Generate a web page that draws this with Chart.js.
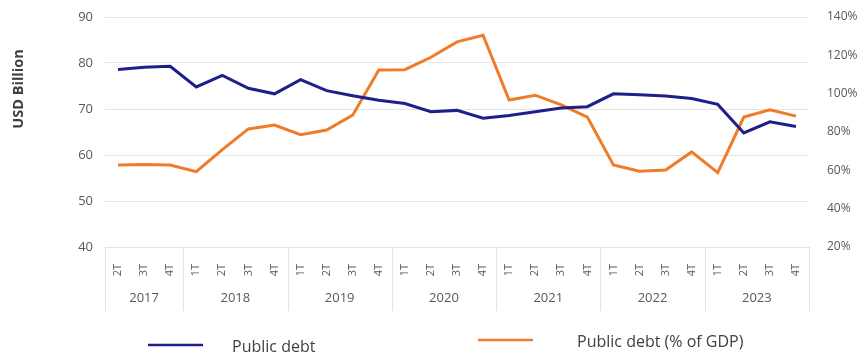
<!DOCTYPE html>
<html>
<head>
<meta charset="utf-8">
<script src="https://cdn.jsdelivr.net/npm/chart.js@4"></script>
<style>
  html, body { margin: 0; padding: 0; background: #fff; }
  #wrap { width: 864px; height: 356px; }
</style>
</head>
<body>
<div id="wrap"><canvas id="myChart" width="864" height="356"></canvas></div>
<script>
const years = ['2017', '2018', '2019', '2020', '2021', '2022', '2023'];
const quartersPerYear = [3, 4, 4, 4, 4, 4, 4];
const quarterLabels = [
  '2T', '3T', '4T',
  '1T', '2T', '3T', '4T',
  '1T', '2T', '3T', '4T',
  '1T', '2T', '3T', '4T',
  '1T', '2T', '3T', '4T',
  '1T', '2T', '3T', '4T',
  '1T', '2T', '3T', '4T'
];
// USD billion, left axis
const debtUsd = [
  78.6, 79.1, 79.3,
  74.8, 77.3, 74.5, 73.3,
  76.4, 74.0, 72.9, 71.9,
  71.2, 69.4, 69.7, 68.0,
  68.6, 69.4, 70.2, 70.5,
  73.3, 73.1, 72.8, 72.3,
  71.0, 64.8, 67.2, 66.2
];
// % of GDP, right axis
const debtPct = [
  62.8, 63.0, 62.8,
  59.3, 70.8, 81.6, 83.6,
  78.6, 81.0, 88.8, 112.3,
  112.5, 119.0, 127.0, 130.5,
  96.7, 99.2, 94.2, 87.8,
  62.8, 59.5, 60.2, 69.6,
  58.8, 87.8, 91.6, 88.3
];

const BLUE = '#1f1f8c';
const ORANGE = '#f07b28';
const TEXT = '#595959';
const GRID = '#e4e4e4';
const FONT = '"Open Sans", sans-serif';

// year groups under the quarter labels
const yearGroups = {
  id: 'yearGroups',
  afterDraw(chart) {
    const { ctx, scales: { x } } = chart;
    const step = (x.right - x.left) / quarterLabels.length;
    const top = x.top;
    const bottom = x.top + 64;
    ctx.save();
    ctx.strokeStyle = GRID;
    ctx.lineWidth = 1;
    ctx.fillStyle = TEXT;
    ctx.font = '13px ' + FONT;
    ctx.textAlign = 'center';
    ctx.textBaseline = 'middle';
    let start = 0;
    years.forEach((yr, i) => {
      const n = quartersPerYear[i];
      const left = x.getPixelForValue(start) - step / 2;
      const right = x.getPixelForValue(start + n - 1) + step / 2;
      ctx.beginPath();
      ctx.moveTo(Math.round(left) + 0.5, top);
      ctx.lineTo(Math.round(left) + 0.5, bottom);
      ctx.stroke();
      if (i === years.length - 1) {
        ctx.beginPath();
        ctx.moveTo(Math.round(right) + 0.5, top);
        ctx.lineTo(Math.round(right) + 0.5, bottom);
        ctx.stroke();
      }
      ctx.fillText(yr, (left + right) / 2, top + 51);
      start += n;
    });
    ctx.restore();
  }
};

// axis title and spread-out legend
const extras = {
  id: 'extras',
  afterDraw(chart) {
    const { ctx } = chart;
    ctx.save();
    ctx.translate(19, 89);
    ctx.rotate(-Math.PI / 2);
    ctx.fillStyle = '#404040';
    ctx.font = 'bold 14.5px ' + FONT;
    ctx.textAlign = 'center';
    ctx.textBaseline = 'middle';
    ctx.fillText('USD Billion', 0, 0);
    ctx.restore();

    const items = [
      { ds: chart.data.datasets[0], x: 148, y: 345, tx: 232 },
      { ds: chart.data.datasets[1], x: 478, y: 340, tx: 577 }
    ];
    ctx.save();
    ctx.font = '16px ' + FONT;
    ctx.textBaseline = 'middle';
    ctx.lineWidth = 2.5;
    items.forEach(it => {
      ctx.strokeStyle = it.ds.borderColor;
      ctx.beginPath();
      ctx.moveTo(it.x, it.y);
      ctx.lineTo(it.x + 55, it.y);
      ctx.stroke();
      ctx.fillStyle = '#404040';
      ctx.fillText(it.ds.label, it.tx, it.y + 2);
    });
    ctx.restore();
  }
};

const ctx = document.getElementById('myChart').getContext('2d');
new Chart(ctx, {
  type: 'line',
  data: {
    labels: quarterLabels,
    datasets: [
      {
        label: 'Public debt',
        data: debtUsd,
        yAxisID: 'y',
        borderColor: BLUE,
        backgroundColor: BLUE,
        borderWidth: 3,
        pointRadius: 0,
        tension: 0
      },
      {
        label: 'Public debt (% of GDP)',
        data: debtPct,
        yAxisID: 'y1',
        borderColor: ORANGE,
        backgroundColor: ORANGE,
        borderWidth: 3,
        pointRadius: 0,
        tension: 0
      }
    ]
  },
  options: {
    responsive: false,
    animation: false,
    layout: { padding: { top: 17, left: 0, right: 0, bottom: 0 } },
    plugins: {
      legend: { display: false },
      tooltip: { enabled: false }
    },
    scales: {
      x: {
        offset: true,
        grid: { display: false },
        border: { display: true, color: GRID },
        ticks: {
          autoSkip: false,
          maxRotation: 90,
          minRotation: 90,
          padding: 9,
          color: TEXT,
          font: { size: 11, family: FONT }
        },
        afterFit(scale) { scale.height = 109; }
      },
      y: {
        position: 'left',
        min: 40,
        max: 90,
        ticks: {
          stepSize: 10,
          padding: 6,
          color: TEXT,
          font: { size: 13, family: FONT }
        },
        // invisible tick marks widen the gap without padding the chart top
        grid: { color: GRID, drawTicks: true, tickLength: 6, tickColor: 'rgba(0,0,0,0)' },
        border: { display: false },
        afterFit(scale) { scale.width = 105; }
      },
      y1: {
        position: 'right',
        min: 20,
        max: 140,
        ticks: {
          stepSize: 20,
          padding: 8,
          color: TEXT,
          font: { size: 12, family: FONT },
          callback: v => v + '%'
        },
        grid: { display: false, drawTicks: true, tickLength: 10, tickColor: 'rgba(0,0,0,0)' },
        border: { display: false },
        afterFit(scale) { scale.width = 55; }
      }
    }
  },
  plugins: [yearGroups, extras]
});
</script>
</body>
</html>
